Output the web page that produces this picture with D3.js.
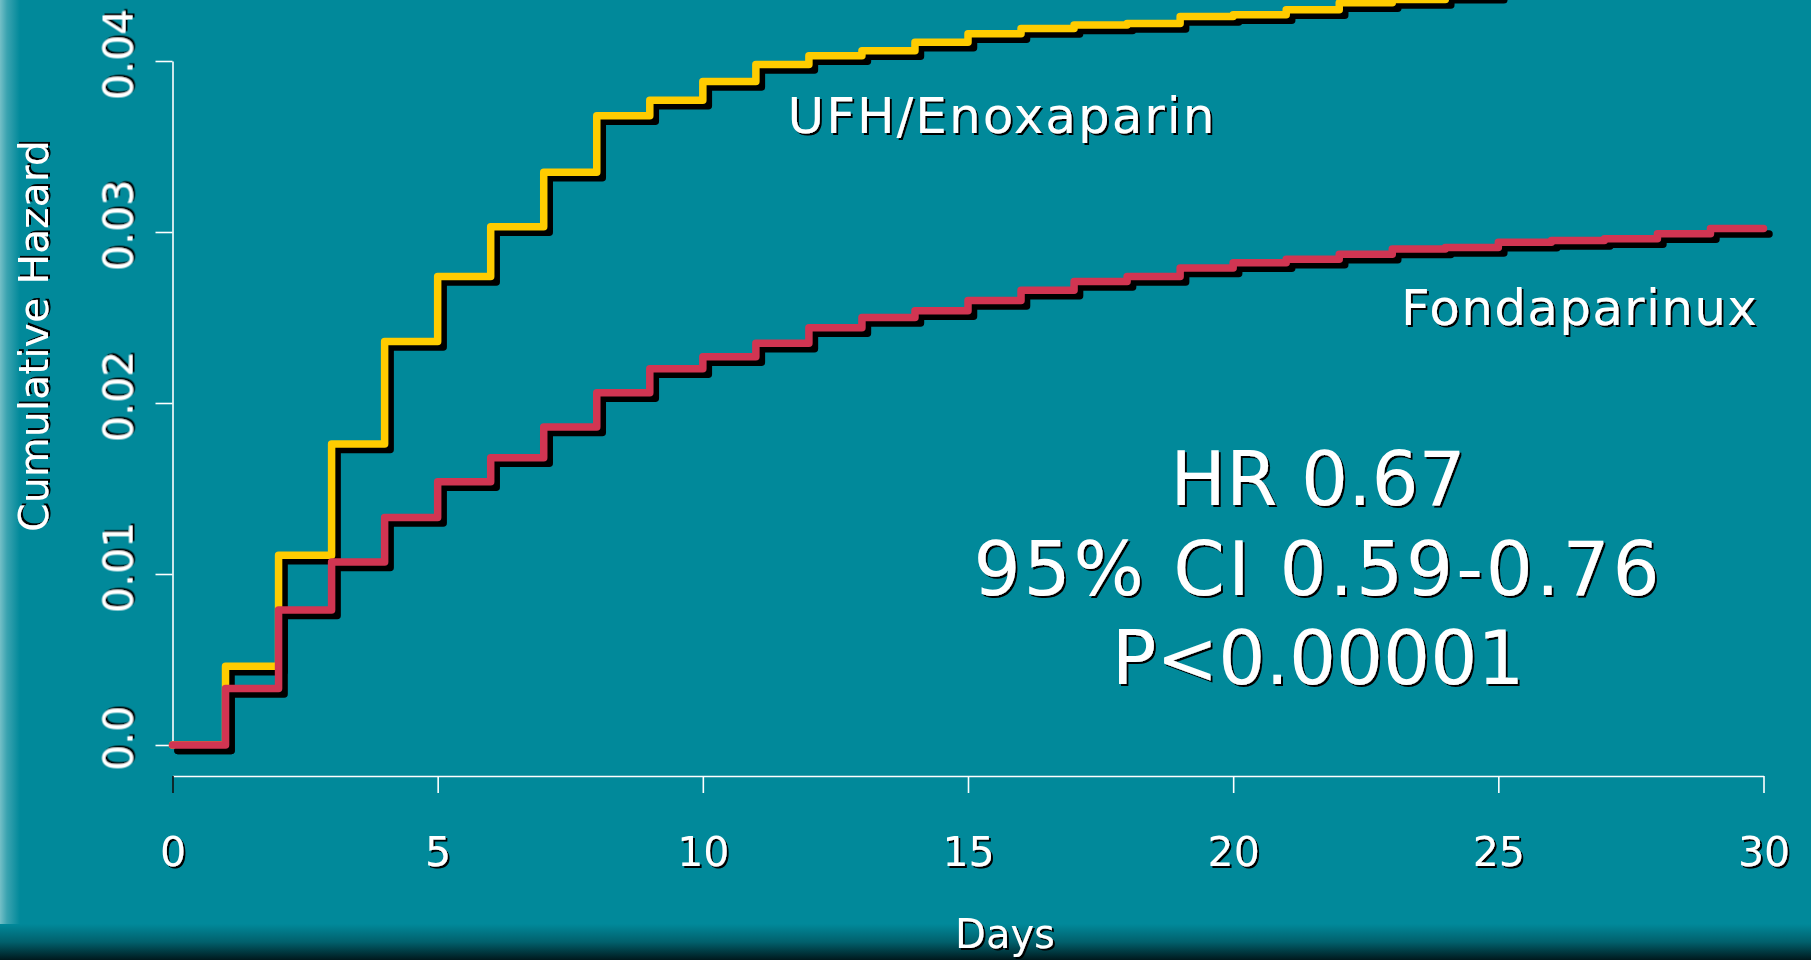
<!DOCTYPE html>
<html>
<head>
<meta charset="utf-8">
<script src="https://cdn.jsdelivr.net/npm/d3@7"></script>
<style>
  body { margin: 0; background: #01899a; }
  svg { display: block; }
  text { font-family: "DejaVu Sans", sans-serif; fill: #fff; }
</style>
</head>
<body>
<div id="canvas"></div>
<script>
// days of follow-up (step positions)
const ufhDays = [0, 1, 2, 3, 4, 5, 6, 7, 8, 9, 10, 11, 12, 13, 14, 15, 16, 17, 18, 19, 20, 21, 22, 23, 24, 25];
const ufhHazard = [0, 0.0046, 0.0111, 0.0176, 0.0236, 0.0274, 0.0303, 0.0335, 0.0368, 0.0377, 0.0388, 0.0398, 0.0403, 0.0406, 0.0411, 0.0416, 0.0419, 0.0421, 0.0422, 0.0426, 0.0427, 0.0430, 0.0434, 0.0436, 0.0439, 0.0442];

const fondaDays = [0, 1, 2, 3, 4, 5, 6, 7, 8, 9, 10, 11, 12, 13, 14, 15, 16, 17, 18, 19, 20, 21, 22, 23, 24, 25, 26, 27, 28, 29, 30];
const fondaHazard = [0, 0.0033, 0.0079, 0.0107, 0.0133, 0.0154, 0.0168, 0.0186, 0.0206, 0.0220, 0.0227, 0.0235, 0.0244, 0.0250, 0.0254, 0.0260, 0.0266, 0.0271, 0.0274, 0.0279, 0.0282, 0.0284, 0.0287, 0.0290, 0.0291, 0.0294, 0.0295, 0.0296, 0.0299, 0.0302, 0.0302];

const xTicks = [0, 5, 10, 15, 20, 25, 30];
const yTicks = [0, 0.01, 0.02, 0.03, 0.04];
const yTickLabels = ["0.0", "0.01", "0.02", "0.03", "0.04"];
const statLines = ["HR 0.67", "95% CI 0.59-0.76", "P<0.00001"];

const width = 1811;
const height = 960;
const margin = { top: 61, left: 172.5, bottom: 215, right: 47.5 };
const xAxisY = 776;

let svg = d3.select("#canvas").append("svg")
  .attr("width", width)
  .attr("height", height);

let defs = svg.append("defs");
defs.append("filter").attr("id", "ts")
  .attr("x", "-10%").attr("y", "-10%").attr("width", "120%").attr("height", "130%")
  .append("feDropShadow")
  .attr("dx", 2).attr("dy", 2).attr("stdDeviation", 0.4)
  .attr("flood-color", "#000").attr("flood-opacity", 1);

let lg = defs.append("linearGradient").attr("id", "leftEdge")
  .attr("x1", 0).attr("x2", 1).attr("y1", 0).attr("y2", 0);
lg.append("stop").attr("offset", 0).attr("stop-color", "#74bfc7");
lg.append("stop").attr("offset", 0.35).attr("stop-color", "#3aa3b0");
lg.append("stop").attr("offset", 1).attr("stop-color", "#01899a");

let bg = defs.append("linearGradient").attr("id", "bottomEdge")
  .attr("x1", 0).attr("x2", 0).attr("y1", 0).attr("y2", 1);
bg.append("stop").attr("offset", 0).attr("stop-color", "#01899a");
bg.append("stop").attr("offset", 0.5).attr("stop-color", "#01606c");
bg.append("stop").attr("offset", 1).attr("stop-color", "#00191d");

// background
svg.append("rect").attr("width", width).attr("height", height).attr("fill", "#01899a");
svg.append("rect").attr("width", 20).attr("height", height).attr("fill", "url(#leftEdge)");
svg.append("rect").attr("y", 924).attr("width", width).attr("height", 36).attr("fill", "url(#bottomEdge)");

const x = d3.scaleLinear()
  .domain([0, 30])
  .range([margin.left, width - margin.right]);

const y = d3.scaleLinear()
  .domain([0, 0.04])
  .range([height - margin.bottom, margin.top]);

// axes
let xAxis = svg.append("g")
  .attr("transform", `translate(0, ${xAxisY})`)
  .call(d3.axisBottom(x).tickValues(xTicks).tickSize(17).tickSizeOuter(0).tickPadding(44));

let yAxis = svg.append("g")
  .attr("transform", `translate(${margin.left}, 0)`)
  .call(d3.axisLeft(y).tickValues(yTicks).tickSize(17).tickSizeOuter(0)
    .tickFormat((d, i) => yTickLabels[i]));

[xAxis, yAxis].forEach(ax => {
  ax.select(".domain").attr("stroke", "#fff").attr("stroke-width", 1.6);
  ax.selectAll(".tick line").attr("stroke", "#fff").attr("stroke-width", 1.6);
  ax.selectAll(".tick text")
    .attr("fill", "#fff")
    .attr("filter", "url(#ts)")
    .style("font-family", "DejaVu Sans, sans-serif")
    .style("font-size", "41px");
});
xAxis.select(".tick line").attr("stroke", "#111");

yAxis.selectAll(".tick text")
  .attr("x", null).attr("dy", null)
  .attr("text-anchor", "middle")
  .attr("transform", "translate(-40, -7) rotate(-90)");

// step curves with drop shadows
const line = (xs, ys) => d3.line()
  .x((d, i) => x(xs[i]))
  .y((d, i) => y(ys[i]))
  .curve(d3.curveStepAfter)(ys);

const series = [
  { days: ufhDays, vals: ufhHazard, color: "#ffcc00" },
  { days: fondaDays, vals: fondaHazard, color: "#d13552" }
];

series.forEach(s => {
  svg.append("path")
    .attr("d", line(s.days, s.vals))
    .attr("transform", "translate(5.5, 5.5)")
    .attr("fill", "none")
    .attr("stroke", "#000")
    .attr("stroke-width", 7.5)
    .attr("stroke-linejoin", "round")
    .attr("stroke-linecap", "round");
  svg.append("path")
    .attr("d", line(s.days, s.vals))
    .attr("fill", "none")
    .attr("stroke", s.color)
    .attr("stroke-width", 7.5)
    .attr("stroke-linejoin", "round")
    .attr("stroke-linecap", "round");
});

// axis titles
svg.append("text")
  .attr("transform", "translate(48, 336) rotate(-90)")
  .attr("text-anchor", "middle")
  .attr("filter", "url(#ts)")
  .style("font-size", "41px")
  .text("Cumulative Hazard");

svg.append("text")
  .attr("x", 1005)
  .attr("y", 948)
  .attr("text-anchor", "middle")
  .attr("filter", "url(#ts)")
  .style("font-size", "40px")
  .text("Days");

// curve labels
svg.append("text")
  .attr("x", 1002)
  .attr("y", 133)
  .attr("text-anchor", "middle")
  .attr("filter", "url(#ts)")
  .style("font-size", "50px")
  .style("letter-spacing", "2px")
  .text("UFH/Enoxaparin");

svg.append("text")
  .attr("x", 1401)
  .attr("y", 325)
  .attr("filter", "url(#ts)")
  .style("font-size", "50px")
  .style("letter-spacing", "1.3px")
  .text("Fondaparinux");

// hazard ratio block
svg.append("g").selectAll("text")
  .data(statLines)
  .enter().append("text")
  .attr("x", 1318)
  .attr("y", (d, i) => 505 + i * 89.5)
  .attr("text-anchor", "middle")
  .attr("filter", "url(#ts)")
  .style("font-size", "74px")
  .style("letter-spacing", (d, i) => i === 1 ? "3px" : "0px")
  .text(d => d);
</script>
</body>
</html>
